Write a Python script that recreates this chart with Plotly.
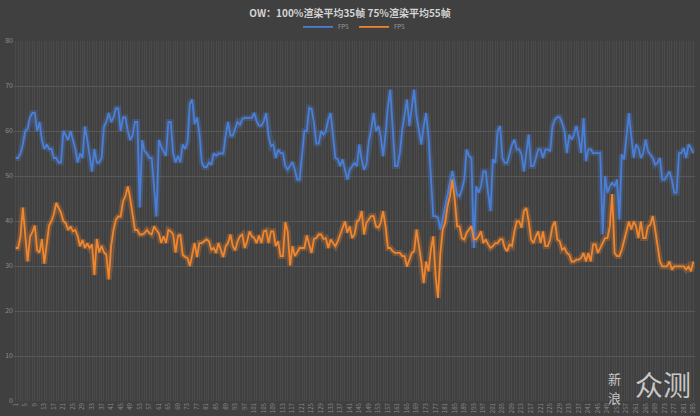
import plotly.graph_objects as go

# ---- data ----
title_text = "OW：100%渲染平均35帧 75%渲染平均55帧"
series_names = ["FPS", "FPS"]
frames = list(range(1, 286))

fps_blue = [
    54, 54, 55, 57, 60, 60.5, 63, 64, 64, 60,
    62, 58, 56, 57, 56, 56, 54, 54, 53, 53,
    60, 59, 58, 60, 58, 56, 53, 55, 54, 61,
    58, 54, 51, 56, 53, 53, 54, 61, 62, 64,
    62, 63, 65, 65, 60, 63, 63, 60, 58, 59,
    62, 62, 43, 58, 55.5, 55, 54, 54, 48, 41,
    58, 56.5, 55.5, 54.5, 62, 62, 55, 53, 54.5, 53,
    57, 56, 57.5, 66, 67, 61.5, 63, 59.5, 53, 52,
    52, 53, 52.5, 55, 54.5, 55, 55, 55, 59, 62,
    59, 59, 60.5, 62, 61.4, 62.7, 62.9, 62.9, 62.9, 62.9,
    64, 62.2, 61.2, 61.2, 62.2, 64, 58.8, 56.6, 57, 54,
    55.9, 55.1, 55.1, 52.2, 51.4, 52.2, 53.1, 51.4, 49.2, 49.2,
    55.1, 60, 60, 65.1, 64.9, 61.8, 57.2, 57.2, 60, 59.2,
    60, 62.5, 64, 58.8, 54, 53.7, 52.2, 53.7, 51.4, 49.2,
    51.4, 52.3, 52.9, 52.2, 57, 53.7, 51.4, 52.5, 57.7, 60.3,
    64, 60, 61.1, 58.8, 54.4, 59.2, 65.5, 69.2, 60.3, 52.2,
    52.2, 55.1, 60.3, 64, 67, 61.1, 65.5, 69.2, 63.3, 59.6,
    57, 61.1, 64, 58.8, 49.2, 41.1, 41.1, 40.7, 38.1, 40.7,
    43.6, 46.3, 49.2, 51.1, 48.5, 45.9, 45.5, 47, 49.2, 55.9,
    54.4, 54, 34, 47.7, 46.3, 47.7, 51, 51, 46.3, 42.2,
    53.7, 52.9, 60, 61.1, 54, 52.9, 52.9, 55.1, 57, 58.1,
    55.9, 55.9, 54.8, 51, 55.5, 59.2, 52.2, 52.2, 54, 55.9,
    55.9, 54, 55.9, 55.9, 55.5, 61.1, 62.5, 63.1, 63.1, 61.8,
    60, 55.1, 59.2, 58.1, 59.2, 61.1, 58.5, 55.1, 62.9, 53.3,
    55.9, 55.9, 55.1, 55.1, 55.1, 55.1, 37, 50, 46.3, 47.7,
    48.5, 47.7, 49.2, 40.3, 54.8, 53.7, 58.8, 64, 58.8, 54,
    57, 56.2, 54, 55.1, 58.1, 55.5, 54.8, 54, 52.5, 52.9,
    54, 49.2, 49.2, 50, 51, 49.2, 46.3, 46.3, 55.1, 55.1,
    56.2, 54, 57, 56.2, 55.1,
]

fps_orange = [
    34, 34, 36.5, 43, 37, 31, 36.5, 37.5, 39, 33.5,
    33, 36, 30.5, 35, 39, 40, 41.5, 44, 43, 41.8,
    40, 39.5, 38, 38.8, 37.7, 38, 36.6, 34.4, 35.8, 34,
    35, 34, 34.8, 28, 36, 33, 34.5, 33, 32.5, 27,
    34.5, 38, 40.3, 41, 41, 44.4, 45.5, 47.7, 45, 41.8,
    38, 38, 37, 37, 37.3, 38, 37.3, 37, 38.8, 38,
    37.3, 35.1, 36.6, 35.1, 38, 37.7, 37, 33, 36.6, 37,
    32.5, 32, 31.8, 30, 32.9, 35.1, 32, 35.1, 35.1, 35.5,
    35.9, 35.5, 33.6, 34, 32.9, 35.1, 33.6, 32, 34.4, 35.1,
    37, 34.4, 33.5, 35.5, 36.6, 37, 34, 35.5, 37.7, 36.6,
    36.2, 35.1, 36.8, 35.1, 37.7, 37.9, 35.1, 37.7, 37.7, 34.4,
    35.5, 32.2, 32.2, 39.7, 37.7, 30.1, 34.4, 32.2, 33.1, 34,
    34, 34, 36.8, 34.8, 32.9, 36, 36.2, 37, 37, 36,
    36.2, 34, 35.9, 35.1, 34.4, 35.5, 37, 38.5, 39.9, 37.4,
    38.8, 36.2, 37, 39.9, 40.3, 42.2, 37, 39.6, 40.3, 41.1,
    41.1, 38.8, 38.5, 39.6, 42.2, 38.8, 34, 34, 33.3, 32.9,
    32.9, 32.9, 32.2, 32.2, 29.9, 31.4, 32.9, 33.3, 38.1, 34.4,
    31, 26.2, 31, 28.8, 33.6, 36.6, 27.7, 22.9, 32.9, 38.1,
    39.6, 43.3, 45.5, 49.2, 44.8, 38.8, 38.8, 36.2, 35.9, 37.4,
    38.1, 38.8, 35.9, 35.9, 36.6, 37.7, 35.1, 35.9, 34.8, 34,
    34.4, 35.1, 35.1, 35.9, 35.9, 34, 33.3, 34.8, 34.4, 37.7,
    39.9, 39.9, 38.5, 42.2, 42.9, 39.9, 35.9, 35.1, 36.6, 37.7,
    35.1, 37.7, 34.4, 34.4, 35.9, 38.8, 39.9, 35.9, 35.5, 33.6,
    34, 32.9, 32.5, 31, 31, 31.4, 31.4, 31.8, 32.9, 31,
    32.9, 31, 34.8, 34.8, 32.9, 34, 35.1, 36.2, 36.2, 38.8,
    46, 32.9, 32.2, 32.2, 33.6, 35.9, 38.1, 39.9, 38.1, 39.9,
    38.8, 36.2, 39.9, 36.2, 36.2, 38.8, 39.2, 41.1, 38.1, 34.4,
    31, 29.9, 29.9, 29.9, 31, 29.2, 29.9, 29.9, 29.9, 29.9,
    29.9, 29.2, 29.9, 28.8, 31,
]

y_ticks = [0, 10, 20, 30, 40, 50, 60, 70, 80]
watermark_small = ["新", "浪"]
watermark_big = "众测"

# ---- style ----
BG = "#404040"
BLUE = "#4a7fd8"
ORANGE = "#f0862e"
FONT = "Noto Sans CJK SC"
WM = "rgba(225,225,225,0.85)"

fig = go.Figure()

# glow layers
for vals, glow in [(fps_blue, "rgba(74,127,216,0.28)"), (fps_orange, "rgba(240,134,46,0.28)")]:
    fig.add_trace(go.Scatter(x=frames, y=vals, mode="lines",
                             line=dict(color=glow, width=6),
                             showlegend=False, hoverinfo="skip"))

for vals, col, nm in [(fps_blue, BLUE, series_names[0]), (fps_orange, ORANGE, series_names[1])]:
    fig.add_trace(go.Scatter(x=frames, y=vals, mode="lines", name=nm,
                             line=dict(color=col, width=1.8)))

fig.update_layout(
    width=700, height=416,
    margin=dict(l=14, r=5, t=41, b=15, autoexpand=False),
    paper_bgcolor=BG, plot_bgcolor=BG,
    font=dict(family=FONT, color="#8c8c8c", size=7),
    title=dict(text="<b>" + title_text + "</b>", x=0.5, xanchor="center",
               y=1 - 13 / 416, yanchor="middle", yref="container",
               font=dict(size=10, color="#d4d4d4", family=FONT)),
    legend=dict(orientation="h", x=0.5, xanchor="center", y=1.039, yanchor="middle",
                font=dict(size=6, color="#9a9a9a"), bgcolor="rgba(0,0,0,0)",
                itemwidth=30, tracegroupgap=0),
    showlegend=True,
)

fig.update_xaxes(
    range=[0.3, 285.7], tickmode="linear", tick0=1, dtick=4,
    tickangle=-90, tickfont=dict(size=6, color="#8c8c8c"),
    showgrid=True, gridcolor="#4b4b4b", gridwidth=1,
    minor=dict(dtick=1, tick0=1, showgrid=True, gridcolor="#4a4a4a", gridwidth=1),
    zeroline=False, showline=False, ticks="", automargin=False,
)
fig.update_yaxes(
    range=[0, 80], tickvals=y_ticks, tickfont=dict(size=7, color="#8c8c8c"),
    showgrid=True, gridcolor="#585858", gridwidth=1,
    zeroline=False, showline=False, ticks="", automargin=False,
)

# watermark (pixel positions converted to paper coords)
def px(xp):
    return (xp - 14) / 681

def py(yp):
    return (401.5 - yp) / 360.5

fig.add_annotation(text=watermark_small[0], xref="paper", yref="paper",
                   x=px(614), y=py(379), xanchor="center", yanchor="middle",
                   borderpad=0, showarrow=False,
                   font=dict(size=13, color=WM, family=FONT))
fig.add_annotation(text=watermark_small[1], xref="paper", yref="paper",
                   x=px(614), y=py(398), xanchor="center", yanchor="middle",
                   borderpad=0, showarrow=False,
                   font=dict(size=13, color=WM, family=FONT))
fig.add_annotation(text=watermark_big, xref="paper", yref="paper",
                   x=px(663), y=py(384), xanchor="center", yanchor="middle",
                   showarrow=False, font=dict(size=28, color=WM, family=FONT))

fig.write_html("out.html")
